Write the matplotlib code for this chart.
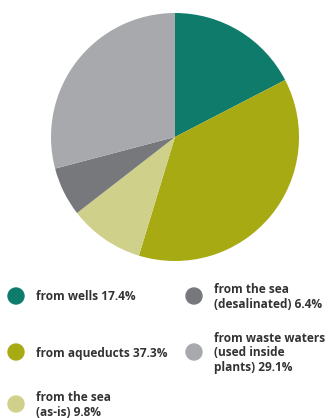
import matplotlib.pyplot as plt
from matplotlib.patches import Circle

# Water sources, share of total withdrawal (%)
sources = ["from wells", "from aqueducts", "from the sea\n(as-is)",
           "from the sea\n(desalinated)", "from waste waters\n(used inside\nplants)"]
shares = [17.4, 37.3, 9.8, 6.4, 29.1]
colors = ["#0f7b6b", "#a7aa13", "#cfd08a", "#77787c", "#a8a9ad"]

W, H = 328, 418
fig = plt.figure(figsize=(W / 100, H / 100), dpi=100)
plt.rcParams["font.family"] = ["Open Sans", "DejaVu Sans"]

# pie centred at (175, 137) px, radius 124 px
cx, cy, r = 175, 137, 124
ax = fig.add_axes([(cx - r) / W, (H - cy - r) / H, 2 * r / W, 2 * r / H])
ax.pie(shares, colors=colors, startangle=90, counterclock=False,
       wedgeprops=dict(linewidth=0))
ax.set_xlim(-1, 1)
ax.set_ylim(-1, 1)
ax.set_aspect("equal")

# legend drawn in pixel coordinates
lg = fig.add_axes([0, 0, 1, 1])
lg.set_xlim(0, W)
lg.set_ylim(H, 0)
lg.axis("off")

# (marker x, marker y) per entry, in slice order
slots = [(16, 296), (16, 352), (16, 404), (194, 296), (194, 352)]
for (mx, my), name, val, col in zip(slots, sources, shares, colors):
    lg.add_patch(Circle((mx, my), 8, color=col))
    lg.text(mx + 20, my + 1, f"{name} {val}%", va="center", ha="left",
            fontsize=8.6, fontweight="bold", color="#333333",
            linespacing=1.12)

fig.savefig("out.png", dpi=100)
